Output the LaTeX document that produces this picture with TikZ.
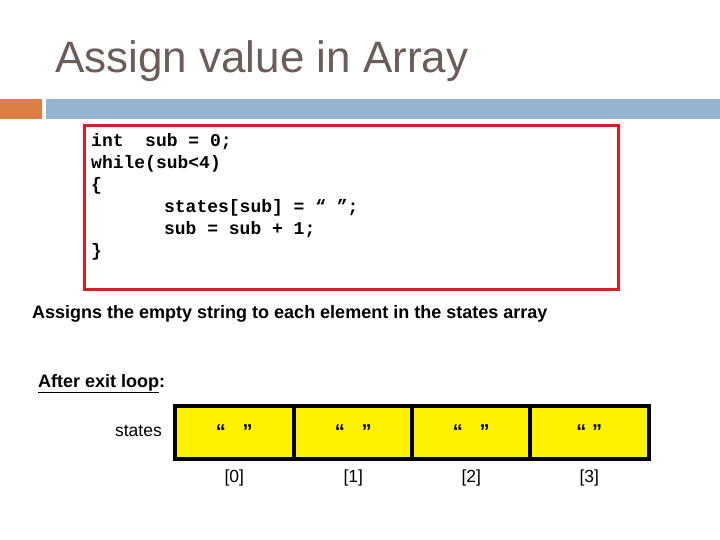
\documentclass[tikz,border=0pt]{standalone}
\usepackage{fontspec}
\setmainfont{Liberation Sans}
\setmonofont{Liberation Mono}
\definecolor{titlegray}{HTML}{6B5D59}
\definecolor{barorange}{HTML}{DD7E45}
\definecolor{barblue}{HTML}{94B4D1}
\definecolor{codered}{HTML}{D2202A}
\tikzset{
  cell/.style={draw=black, line width=3.5pt, fill=yellow, minimum width=119pt,
    minimum height=53pt, inner sep=0pt, anchor=north west},
  idx/.style={font=\fontsize{17.5}{20}\selectfont},
}
\begin{document}
\begin{tikzpicture}[x=1pt,y=-1pt]
\useasboundingbox (0,0) rectangle (720,540);
% title and bars
\node[anchor=base west, inner sep=0pt, text=titlegray, font=\fontsize{44}{48}\selectfont] (title) at (55,73) {Assign value in Array};
\fill[barorange] (0,99) rectangle (42,119);
\fill[barblue] (46,99) rectangle (720,119);
% code box
\draw[codered, line width=3pt] (84,126) rectangle (618,289);
\node[anchor=north west, inner sep=0pt, align=left,
  font=\ttfamily\bfseries\fontsize{18}{22}\selectfont] (code) at (91,133)
  {int\ \ sub = 0;\\
   while(sub<4)\\
   \{\\
   \hspace*{4.05em}states[sub] = “ ”;\\
   \hspace*{4.05em}sub = sub + 1;\\
   \}};
\node[anchor=base west, inner sep=0pt, font=\bfseries\fontsize{18}{20}\selectfont] (desc) at (32,318)
  {Assigns the empty string to each element in the states array};
% array after loop
\node[anchor=base west, inner sep=0pt, font=\bfseries\fontsize{18}{20}\selectfont] (after) at (38,387)
  {\underline{After exit loop}:};
\foreach \i/\x/\q in {0/173/{“\ \ \ ”},1/292/{“\ \ \ ”},2/410/{“\ \ \ ”},3/528/{“\ ”}}{
  \node[cell] (c\i) at (\x,404) {};
  \node[font=\bfseries\fontsize{20}{22}\selectfont, yshift=1pt] (q\i) at (c\i.center) {\q};
  \node[idx] (l\i) at ([yshift=-17pt]c\i.south) {[\i]};
}
\node[idx, anchor=east, inner sep=0pt] (states) at (162,431) {states};
\end{tikzpicture}
\end{document}
